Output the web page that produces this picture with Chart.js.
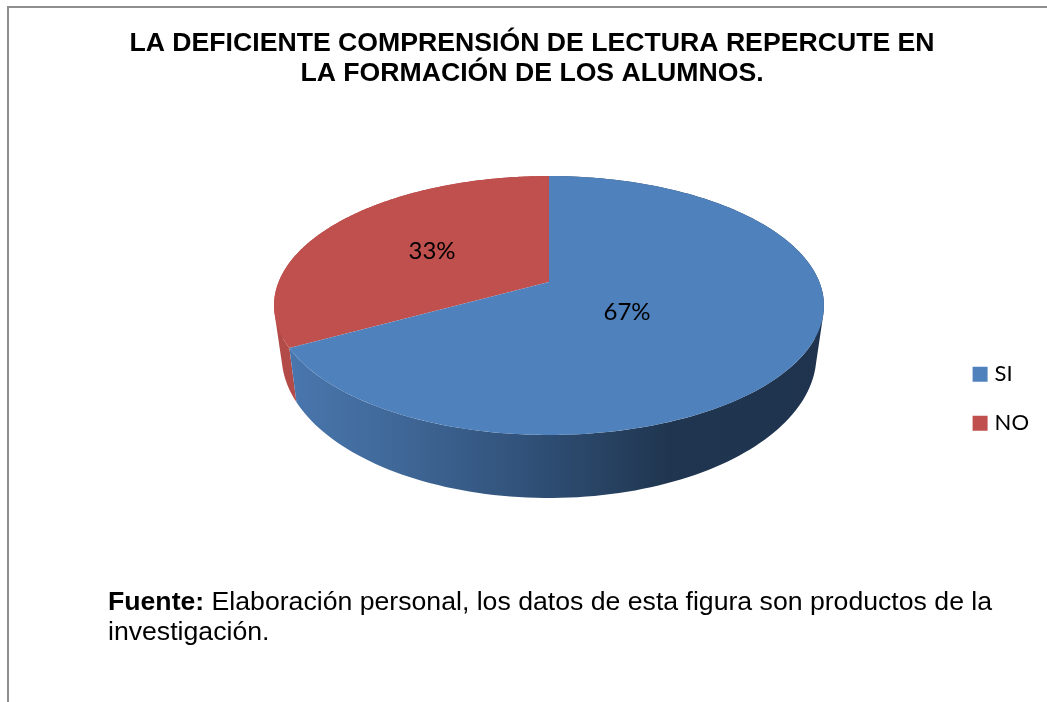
<!DOCTYPE html>
<html lang="es">
<head>
<meta charset="utf-8">
<title>Comprensión de lectura</title>
<script src="https://cdn.jsdelivr.net/npm/chart.js@4"></script>
<style>
html,body{margin:0;padding:0;background:#fff;width:1047px;height:702px;overflow:hidden}
#wrap{position:relative;width:1047px;height:702px}
canvas{position:absolute;left:0;top:0}
#frameTop{position:absolute;left:7px;top:6px;width:1040px;height:2px;background:#8e8e8e}
#frameLeft{position:absolute;left:7px;top:6px;width:2px;height:696px;background:#8e8e8e}
#fuente{position:absolute;left:108px;top:586px;width:920px;font:26.65px/30px "Liberation Sans",Arial,sans-serif;color:#000}
</style>
</head>
<body>
<div id="wrap">
<canvas id="c" width="1047" height="702"></canvas>
<div id="frameTop"></div><div id="frameLeft"></div>
<div id="fuente"><b>Fuente:</b> Elaboración personal, los datos de esta figura son productos de la<br>investigación.</div>
</div>
<script>
const categories = ["SI", "NO"];
const percentages = [67, 33];
const sliceColors = ["#4f81bd", "#c0504d"];
const titleLines = ["LA DEFICIENTE COMPRENSIÓN DE LECTURA REPERCUTE EN", "LA FORMACIÓN DE LOS ALUMNOS."];

// perspective view of the pie disc (style only: angles come from Chart.js arc elements)
const view = {cx:549, topY:282, botY:329.4, topA:125.2, botA:138, topC:270.4, botC:263, k:0.1814};
function rim(angle, level){
  const x = Math.cos(angle), far = -Math.sin(angle), w = 1 + view.k*far;
  return level === 0
    ? [view.cx + view.topC*x/w, view.topY - view.topA*far/w]
    : [view.cx + view.botC*x/w, view.botY - view.botA*far/w];
}
function wallGradient(ctx, i){
  const g = ctx.createLinearGradient(274,0,823,0);
  if(i === 0){
    g.addColorStop(0,"#4a78b0");g.addColorStop(0.2,"#416a9b");g.addColorStop(0.45,"#31527a");
    g.addColorStop(0.72,"#203650");g.addColorStop(1,"#1f334e");
  } else {
    g.addColorStop(0,"#b34b48");g.addColorStop(1,"#a74542");
  }
  return g;
}
const pie3d = {
  id:"pie3d",
  beforeDatasetsDraw(chart){
    const ctx = chart.ctx, arcs = chart.getDatasetMeta(0).data;
    const order = arcs.map((_,i)=>i).reverse();
    ctx.save();
    order.forEach(i=>{
      const a = arcs[i], n = 160;
      ctx.beginPath();
      for(let s=0;s<n;s++){
        const t0 = a.startAngle+(a.endAngle-a.startAngle)*s/n, t1 = a.startAngle+(a.endAngle-a.startAngle)*(s+1)/n;
        let q = [rim(t0,0),rim(t1,0),rim(t1,1),rim(t0,1)];
        let area = 0;
        q.forEach((p,j)=>{const r=q[(j+1)%4];area+=p[0]*r[1]-r[0]*p[1];});
        if(area<0) q.reverse();
        ctx.moveTo(q[0][0],q[0][1]);
        for(let j=1;j<4;j++) ctx.lineTo(q[j][0],q[j][1]);
        ctx.closePath();
      }
      ctx.fillStyle = wallGradient(ctx,i);
      ctx.fill();
    });
    order.forEach(i=>{
      const a = arcs[i], n = 240;
      ctx.beginPath();
      ctx.moveTo(view.cx, view.topY);
      for(let s=0;s<=n;s++){
        const p = rim(a.startAngle+(a.endAngle-a.startAngle)*s/n,0);
        ctx.lineTo(p[0],p[1]);
      }
      ctx.closePath();
      ctx.fillStyle = sliceColors[i];
      ctx.fill();
    });
    ctx.fillStyle = "#000";
    ctx.font = '24px Lato, "Open Sans", sans-serif';
    ctx.textAlign = "center";
    ctx.textBaseline = "middle";
    const labelPos = [[627,312],[432,251]];
    arcs.forEach((a,i)=>{ ctx.fillText(percentages[i]+"%", labelPos[i][0], labelPos[i][1]); });
    ctx.restore();
    return false;
  }
};
new Chart(document.getElementById("c"),{
  type:"pie",
  data:{labels:categories,datasets:[{data:percentages,backgroundColor:sliceColors,borderWidth:0}]},
  plugins:[pie3d],
  options:{
    responsive:false,
    animation:false,
    layout:{padding:{left:25,right:8,top:28.4,bottom:0}},
    plugins:{
      tooltip:{enabled:false},
      title:{display:true,text:titleLines,color:"#000",padding:{top:0,bottom:7},
        font:{family:'"Liberation Sans",Arial,sans-serif',size:26.65,weight:"bold",lineHeight:1.126}},
      legend:{position:"right",fullSize:false,
        labels:{boxWidth:7,boxHeight:7,padding:27,color:"#000",font:{family:'Lato,"Open Sans",sans-serif',size:22},
          generateLabels:()=>categories.map((c,i)=>({text:c,fillStyle:sliceColors[i],strokeStyle:sliceColors[i],lineWidth:8,hidden:false,index:i,fontColor:"#000"}))}}
    }
  }
});
</script>
</body>
</html>
